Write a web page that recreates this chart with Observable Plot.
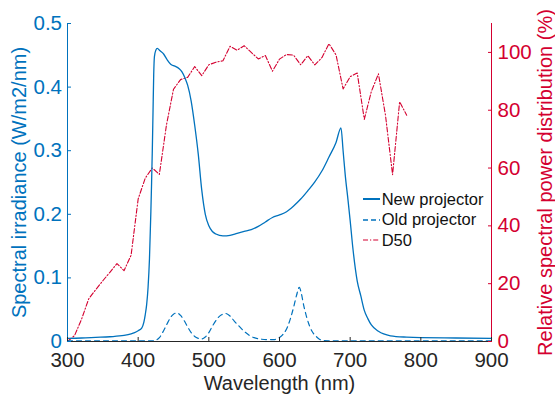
<!DOCTYPE html>
<html><head><meta charset="utf-8">
<script src="https://cdn.jsdelivr.net/npm/d3@7"></script>
<script src="https://cdn.jsdelivr.net/npm/@observablehq/plot@0.6"></script>
<style>
html,body{margin:0;padding:0;background:#fff;}
#wrap{position:relative;width:555px;height:399px;font-family:"Liberation Sans",Arial,sans-serif;}
#legend{position:absolute;left:363px;top:188.75px;font-size:16.5px;color:#111;}
.row{display:flex;align-items:center;height:20.5px;white-space:nowrap;}
.row svg{width:17px;height:20px;margin-right:1.7px;flex:none;}
</style></head><body><div id="wrap"></div>
<script>
// New projector (W/m2/nm)
const newNm  = [300,320,340,360,380,390,395,400,405,408,410,412,414,416,418,419,420,421,422,423,425,427,431,436,441,446,452,458,462,466,470,475,480,485,490,495,500,505,510,520,530,540,550,560,570,580,590,600,610,620,630,640,650,660,670,680,687,690,693,697,700,704,710,715,720,725,730,740,757,780,800,850,900];
const newVal = [0.005,0.0055,0.0065,0.0075,0.0095,0.012,0.014,0.017,0.021,0.030,0.042,0.058,0.085,0.13,0.205,0.25,0.30,0.36,0.42,0.448,0.458,0.461,0.457,0.452,0.443,0.436,0.433,0.429,0.424,0.415,0.403,0.378,0.34,0.295,0.238,0.200,0.182,0.173,0.169,0.166,0.167,0.170,0.173,0.176,0.181,0.188,0.195,0.199,0.204,0.213,0.224,0.237,0.251,0.268,0.290,0.313,0.336,0.300,0.262,0.222,0.190,0.145,0.095,0.072,0.049,0.036,0.026,0.016,0.009,0.0068,0.006,0.0055,0.005];
// Old projector (W/m2/nm)
const oldNm  = [300,420,425,430,436,441,446,450,455,460,465,470,475,480,485,490,495,500,506,512,518,524,530,536,542,550,557,564,572,582,592,598,604,611,616,620,624,628,631,634,638,642,646,651,656,662,680,900];
const oldVal = [0.001,0.001,0.002,0.006,0.017,0.028,0.038,0.043,0.045,0.041,0.033,0.023,0.014,0.008,0.005,0.004,0.007,0.014,0.026,0.036,0.042,0.044,0.040,0.032,0.025,0.016,0.010,0.006,0.004,0.003,0.003,0.005,0.010,0.022,0.038,0.054,0.072,0.085,0.075,0.058,0.040,0.026,0.016,0.009,0.004,0.0015,0.001,0.001];
// D50 relative spectral power (%)
const d50Nm  = [300,310,320,330,340,350,360,370,380,390,400,410,420,430,440,450,460,470,480,490,500,510,520,530,540,550,560,570,580,590,600,610,620,630,640,650,660,670,680,690,700,710,720,730,740,750,760,770,780];
const d50Val = [0.02,2.05,7.78,14.75,17.95,21.01,23.94,26.96,24.49,29.87,49.31,56.51,60.03,57.82,74.83,87.25,90.61,91.37,95.11,91.96,95.72,96.61,97.13,102.10,100.76,102.32,100.00,97.74,98.92,93.50,97.69,99.27,99.04,95.72,98.86,95.67,98.19,103.00,99.13,87.38,91.60,92.89,76.85,86.51,92.58,78.23,57.69,82.92,78.27];

const xTicks = [300,400,500,600,700,800,900];
const leftTicks = [0,0.1,0.2,0.3,0.4,0.5];
const leftTickLabels = ["0","0.1","0.2","0.3","0.4","0.5"];
const rightTicks = [0,20,40,60,80,100];
const rightMax = 110;
const leftMax = 0.5;
const seriesNames = ["New projector","Old projector","D50"];
const xLabel = "Wavelength (nm)";
const yLabel = "Spectral irradiance (W/m2/nm)";
const y2Label = "Relative spectral power distribution (%)";

const blue = "#0072bd", red = "#d40030", dark = "#262626";
const k = leftMax / rightMax;
const newData = newNm.map((x, i) => ({x, y: newVal[i]}));
const oldData = oldNm.map((x, i) => ({x, y: oldVal[i]}));
const d50Data = d50Nm.map((x, i) => ({x, y: d50Val[i]}));
const rightScaled = rightTicks.map(v => v * k);

const plot = Plot.plot({
  width: 555, height: 399,
  marginLeft: 67, marginRight: 64, marginTop: 23, marginBottom: 58,
  style: {fontFamily: "'Liberation Sans', Arial, sans-serif", background: "#fff", overflow: "visible"},
  x: {domain: [300, 900]},
  y: {domain: [0, leftMax]},
  marks: [
    Plot.line(d50Data, {x: "x", y: d => d.y * k, stroke: red, strokeWidth: 1.1, strokeDasharray: "5,2,1.2,2"}),
    Plot.line(oldData, {x: "x", y: "y", stroke: blue, strokeWidth: 1.2, strokeDasharray: "5,4", curve: "monotone-x"}),
    Plot.line(newData, {x: "x", y: "y", stroke: blue, strokeWidth: 1.3, curve: "monotone-x"}),
    Plot.ruleX([300], {stroke: blue}),
    Plot.ruleX([900], {stroke: red}),
    Plot.ruleY([0], {stroke: dark}),
    Plot.axisX(xTicks, {anchor: "bottom", tickSize: 4, dy: -4, tickFormat: () => "", color: dark, label: null}),
    Plot.axisX(xTicks, {anchor: "bottom", tickSize: 0, tickPadding: 10.5, fontSize: 20.5, color: dark, label: null, tickFormat: d => String(d)}),
    Plot.axisY(leftTicks, {anchor: "left", tickSize: 4, dx: 4, tickFormat: () => "", color: blue, label: null}),
    Plot.axisY(leftTicks, {anchor: "left", tickSize: 0, tickPadding: 5.5, fontSize: 20.5, color: blue, label: null, tickFormat: d => leftTickLabels[leftTicks.indexOf(d)]}),
    Plot.axisY(rightScaled, {anchor: "right", tickSize: 4, dx: -4, tickFormat: () => "", color: red, label: null}),
    Plot.axisY(rightScaled, {anchor: "right", tickSize: 0, tickPadding: 6, fontSize: 20.5, color: red, label: null, tickFormat: d => String(Math.round(d / k))}),
    Plot.text([xLabel], {text: d => d, frameAnchor: "bottom", dy: 42, fontSize: 20, fill: dark, textAnchor: "middle", lineAnchor: "middle"}),
    Plot.text([yLabel], {text: d => d, frameAnchor: "left", dx: -47.5, rotate: -90, fontSize: 20, fill: blue, textAnchor: "middle", lineAnchor: "middle"}),
    Plot.text([y2Label], {text: d => d, frameAnchor: "right", dx: 54.5, rotate: -90, fontSize: 20, fill: red, textAnchor: "middle", lineAnchor: "middle"})
  ]
});
const wrap = document.getElementById("wrap");
wrap.appendChild(plot);

// legend
const styles = [
  {stroke: blue, dash: null, w: 2},
  {stroke: blue, dash: "5,3", w: 1.3},
  {stroke: red, dash: "5,2,1.2,2", w: 1.2}
];
const leg = document.createElement("div");
leg.id = "legend";
seriesNames.forEach((name, i) => {
  const row = document.createElement("div");
  row.className = "row";
  const s = styles[i];
  row.innerHTML = `<svg viewBox="0 0 17 20"><line x1="0" x2="17" y1="10" y2="10" stroke="${s.stroke}" stroke-width="${s.w}" ${s.dash ? `stroke-dasharray="${s.dash}"` : ""}/></svg><span>${name}</span>`;
  leg.appendChild(row);
});
wrap.appendChild(leg);
</script>
</body></html>
